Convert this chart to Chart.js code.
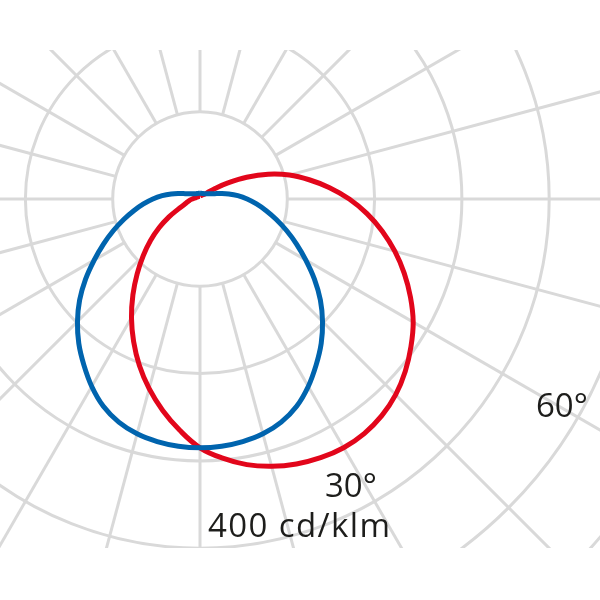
<!DOCTYPE html>
<html lang="de">
<head>
  <meta charset="UTF-8" />
  <title>Lichtstärkeverteilung</title>
  <script src="https://cdn.jsdelivr.net/npm/chart.js"></script>
  <style>
    html, body {
      margin: 0;
      padding: 0;
      background: #fff;
    }
    #wrap {
      position: relative;
      width: 600px;
      height: 600px;
    }
    #ldc {
      position: absolute;
      left: 0;
      top: 0;
    }
    .lbl {
      position: absolute;
      font-family: "Open Sans", sans-serif;
      font-size: 33px;
      line-height: 1;
      color: #1d1d1b;
      white-space: nowrap;
    }
  </style>
</head>
<body>

  <div id="wrap">
    <canvas id="ldc" width="600" height="600"></canvas>
    <span class="lbl" style="left:325px; top:468px;">30°</span>
    <span class="lbl" style="left:536px; top:388px;">60°</span>
    <span class="lbl" style="left:208px; top:508px; letter-spacing:1.4px;">400 cd/klm</span>
  </div>

  <script>
    // gamma angle (0 = straight down, + = right side), in degrees
    const gamma = [-180, -175, -170, -165, -160, -155, -150, -145, -140, -135, -130, -125,
                   -120, -115, -110, -105, -100, -95, -90, -85, -80, -75, -70, -65,
                   -60, -55, -50, -45, -40, -35, -30, -25, -20, -15, -10, -5,
                   0, 5, 10, 15, 20, 25, 30, 35, 40, 45, 50, 55,
                   60, 65, 70, 75, 80, 85, 90, 95, 100, 105, 110, 115,
                   120, 125, 130, 135, 140, 145, 150, 155, 160, 165, 170, 175, 180];

    // intensities in cd/klm
    const blueC0C180 = [6.6, 6.6, 6.6, 6.7, 6.8, 7, 7.2, 7.5, 8, 8.6, 9.4, 10.5,
                        12, 14.2, 18, 24.5, 33.5, 43.5, 54, 65, 77, 90.5, 105.5, 122,
                        140, 160, 180, 198.5, 216, 232, 248, 262, 272, 278.5, 282.2, 284.3,
                        285, 284.3, 282.2, 278.5, 272, 262, 248, 232, 216, 198.5, 180, 160,
                        140, 122, 105.5, 90.5, 77, 65, 54, 43.5, 33.5, 24.5, 18, 14.2,
                        12, 10.5, 9.4, 8.6, 8, 7.5, 7.2, 7, 6.8, 6.7, 6.6, 6.6, 6.6];
    const redC90C270 = [3.4, 3.4, 3.3, 3.2, 3.2, 3.2, 3.2, 3.3, 3.4, 3.5, 3.6, 3.8,
                        4.1, 4.4, 4.8, 5.3, 6.1, 7.2, 8.9, 11.2, 13.2, 15.8, 19.8, 27.5,
                        41, 57, 74, 92, 112, 134, 157, 180, 203, 225, 246, 266,
                        285, 298, 309, 317, 323, 327, 329, 328, 324, 317, 307, 295,
                        282, 266, 249, 231, 212, 192, 171, 149, 127, 106, 83, 59,
                        37, 21, 11.5, 8, 6.9, 6, 5.2, 4.7, 4.4, 4, 3.8, 3.6, 3.4];

    // grid: rings every 100 cd/klm, spokes every 15 deg starting at the first ring
    const rings = [100, 200, 300, 400, 500, 600, 700];
    const spokes = [0, 15, 30, 45, 60, 75, 90, 105, 120, 135, 150, 165,
                    180, 195, 210, 225, 240, 255, 270, 285, 300, 315, 330, 345];

    function toXY(angles, values) {
      return angles.map((g, i) => {
        const rad = g * Math.PI / 180;
        return { x: values[i] * Math.sin(rad), y: -values[i] * Math.cos(rad) };
      });
    }

    const polarGrid = {
      id: 'polarGrid',
      beforeDatasetsDraw(chart) {
        const { ctx, chartArea, scales: { x, y } } = chart;
        const cx = x.getPixelForValue(0);
        const cy = y.getPixelForValue(0);
        ctx.save();
        ctx.beginPath();
        ctx.rect(chartArea.left, chartArea.top, chartArea.width, chartArea.height);
        ctx.clip();
        ctx.strokeStyle = '#d9d9d9';
        ctx.lineWidth = 3;

        rings.forEach(v => {
          ctx.beginPath();
          ctx.arc(cx, cy, x.getPixelForValue(v) - cx, 0, Math.PI * 2);
          ctx.stroke();
        });

        const rOut = 800;
        spokes.forEach(a => {
          const rad = a * Math.PI / 180;
          const s = Math.sin(rad), c = Math.cos(rad);
          ctx.beginPath();
          ctx.moveTo(x.getPixelForValue(rings[0] * s), y.getPixelForValue(-rings[0] * c));
          ctx.lineTo(x.getPixelForValue(rOut * s), y.getPixelForValue(-rOut * c));
          ctx.stroke();
        });
        ctx.restore();
      }
    };

    new Chart(document.getElementById('ldc'), {
      type: 'scatter',
      data: {
        datasets: [
          {
            label: 'C0-C180',
            data: toXY(gamma, blueC0C180),
            showLine: true,
            borderColor: '#0064ae',
            borderWidth: 5,
            pointRadius: 0,
            tension: 0.4
          },
          {
            label: 'C90-C270',
            data: toXY(gamma, redC90C270),
            showLine: true,
            borderColor: '#e2061b',
            borderWidth: 5,
            pointRadius: 0,
            tension: 0.4
          }
        ]
      },
      options: {
        responsive: false,
        animation: false,
        devicePixelRatio: 1,
        events: [],
        layout: { padding: { top: 50, bottom: 52, left: 0, right: 0 } },
        scales: {
          x: { type: 'linear', display: false, min: -229.1, max: 458.2 },
          y: { type: 'linear', display: false, min: -399.8, max: 170.7 }
        },
        plugins: {
          legend: { display: false },
          tooltip: { enabled: false }
        }
      },
      plugins: [polarGrid]
    });
  </script>
</body>
</html>
